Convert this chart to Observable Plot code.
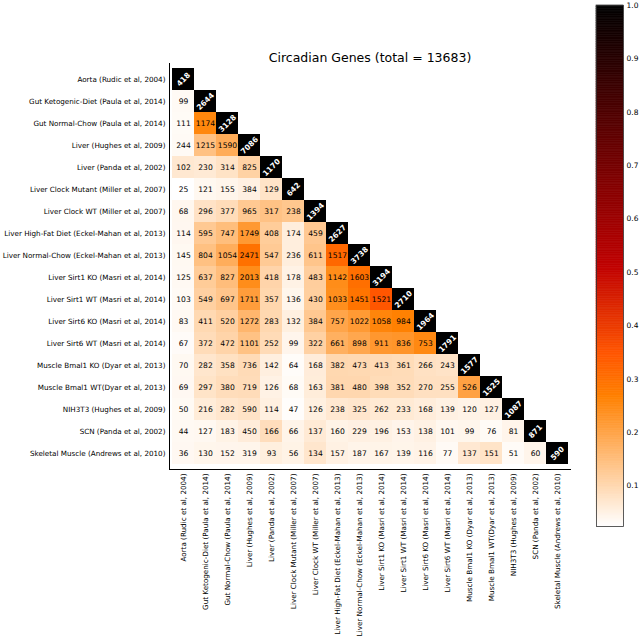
<!DOCTYPE html>
<html><head><meta charset="utf-8">
<script src="https://cdn.jsdelivr.net/npm/d3@7"></script>
<script src="https://cdn.jsdelivr.net/npm/@observablehq/plot@0.6"></script>
<style>
body{margin:0;background:#fff;font-family:"DejaVu Sans",sans-serif}
#wrap{position:relative;width:640px;height:637px;overflow:hidden}
#wrap svg{position:absolute;top:0}
</style></head><body><div id="wrap"></div>
<script>
const samples = [
  "Aorta (Rudic et al, 2004)",
  "Gut Ketogenic-Diet (Paula et al, 2014)",
  "Gut Normal-Chow (Paula et al, 2014)",
  "Liver (Hughes et al, 2009)",
  "Liver (Panda et al, 2002)",
  "Liver Clock Mutant (Miller et al, 2007)",
  "Liver Clock WT (Miller et al, 2007)",
  "Liver High-Fat Diet (Eckel-Mahan et al, 2013)",
  "Liver Normal-Chow (Eckel-Mahan et al, 2013)",
  "Liver Sirt1 KO (Masri et al, 2014)",
  "Liver Sirt1 WT (Masri et al, 2014)",
  "Liver Sirt6 KO (Masri et al, 2014)",
  "Liver Sirt6 WT (Masri et al, 2014)",
  "Muscle Bmal1 KO (Dyar et al, 2013)",
  "Muscle Bmal1 WT(Dyar et al, 2013)",
  "NIH3T3 (Hughes et al, 2009)",
  "SCN (Panda et al, 2002)",
  "Skeletal Muscle (Andrews et al, 2010)"
];
// genes per dataset (diagonal)
const diagonal = [418, 2644, 3128, 7086, 1170, 642, 1394, 2627, 3738, 3194, 2710, 1964, 1791, 1577, 1525, 1087, 871, 590];
// shared genes, lower triangle (row i, columns 0..i-1)
const overlaps = [
  [],
  [99],
  [111, 1174],
  [244, 1215, 1590],
  [102, 230, 314, 825],
  [25, 121, 155, 384, 129],
  [68, 296, 377, 965, 317, 238],
  [114, 595, 747, 1749, 408, 174, 459],
  [145, 804, 1054, 2471, 547, 236, 611, 1517],
  [125, 637, 827, 2013, 418, 178, 483, 1142, 1603],
  [103, 549, 697, 1711, 357, 136, 430, 1033, 1451, 1521],
  [83, 411, 520, 1272, 283, 132, 384, 757, 1022, 1058, 984],
  [67, 372, 472, 1101, 252, 99, 322, 661, 898, 911, 836, 753],
  [70, 282, 358, 736, 142, 64, 168, 382, 473, 413, 361, 266, 243],
  [69, 297, 380, 719, 126, 68, 163, 381, 480, 398, 352, 270, 255, 526],
  [50, 216, 282, 590, 114, 47, 126, 238, 325, 262, 233, 168, 139, 120, 127],
  [44, 127, 183, 450, 166, 66, 137, 160, 229, 196, 153, 138, 101, 99, 76, 81],
  [36, 130, 152, 319, 93, 56, 134, 157, 187, 167, 139, 116, 77, 137, 151, 51, 60]
];
const title = "Circadian Genes (total = 13683)";
const colorbarTicks = [0.1, 0.2, 0.3, 0.4, 0.5, 0.6, 0.7, 0.8, 0.9, 1.0];

// build cells; colour = Jaccard index of the two gene sets
const cells = [];
samples.forEach((row, i) => {
  for (let j = 0; j <= i; j++) {
    const value = i === j ? diagonal[i] : overlaps[i][j];
    const jaccard = i === j ? 1 : value / (diagonal[i] + diagonal[j] - value);
    cells.push({row, col: samples[j], value, jaccard, diag: i === j});
  }
});
const vmin = d3.min(cells, d => d.jaccard);
// gist_heat_r (piecewise linear in RGB)
const stops = [0, 0.25, 1/3, 0.5, 1];
const stopColors = ["#ffffff", "#ff8000", "#ff5500", "#bf0000", "#000000"];
const color = {type: "linear", domain: stops.map(t => vmin + t * (1 - vmin)), range: stopColors, interpolate: "rgb", clamp: true};

const font = "DejaVu Sans, sans-serif";
const main = Plot.plot({
  width: 640, height: 637,
  marginLeft: 169, marginTop: 63, marginRight: 70, marginBottom: 168,
  x: {domain: samples, padding: 0, tickRotate: -90, tickSize: 0, tickPadding: 4, label: null, line: true},
  y: {domain: samples, padding: 0, tickSize: 0, tickPadding: 4, label: null, line: true},
  color,
  style: {fontFamily: font, fontSize: "7.2px", background: "transparent", color: "black"},
  marks: [
    Plot.cell(cells, {x: "col", y: "row", fill: "jaccard", inset: 0}),
    Plot.text(cells.filter(d => !d.diag), {x: "col", y: "row", text: d => String(d.value), fill: "black", fontSize: 7.6}),
    Plot.text(cells.filter(d => d.diag), {x: "col", y: "row", text: d => String(d.value), fill: "white", rotate: -45, fontSize: 7.5, fontWeight: "bold"}),
    Plot.text([title], {frameAnchor: "top", lineAnchor: "bottom", dy: -2, fontSize: 12.5, fill: "black"})
  ]
});
main.style.left = "0px";

const steps = d3.range(300).map(k => {
  const lo = vmin + (1 - vmin) * k / 300, hi = vmin + (1 - vmin) * (k + 1) / 300;
  return {lo, hi, mid: (lo + hi) / 2};
});
const bar = Plot.plot({
  width: 50, height: 637,
  marginLeft: 6, marginRight: 17, marginTop: 5, marginBottom: 111,
  x: {domain: [0, 1], axis: null},
  y: {domain: [vmin, 1], axis: "right", ticks: colorbarTicks, tickFormat: ".1f", tickSize: 0, tickPadding: 3, label: null},
  color,
  style: {fontFamily: font, fontSize: "7.5px", background: "transparent", color: "black"},
  marks: [
    Plot.rect(steps, {x1: 0, x2: 1, y1: "lo", y2: "hi", fill: "mid", stroke: "mid", strokeWidth: 0.6}),
    Plot.frame({stroke: "#333", strokeWidth: 0.8})
  ]
});
bar.style.left = "590px";
document.getElementById("wrap").append(main, bar);
</script></body></html>
